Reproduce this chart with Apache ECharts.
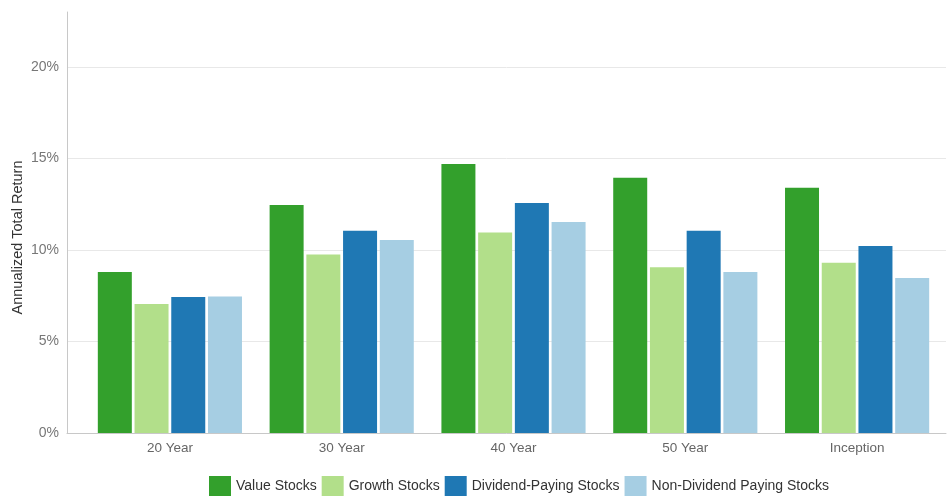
<!DOCTYPE html>
<html>
<head>
<meta charset="utf-8">
<script src="https://cdn.jsdelivr.net/npm/echarts@6/dist/echarts.min.js"></script>
<style>
  html, body { margin: 0; padding: 0; background: #fff; }
  .echarts { width: 948px; height: 497px; }
</style>
</head>
<body>
<div class="echarts"></div>
<script>
const categories = ['20 Year', '30 Year', '40 Year', '50 Year', 'Inception'];
const valueStocks = [8.8, 12.45, 14.7, 13.95, 13.4];
const growthStocks = [7.05, 9.75, 10.95, 9.05, 9.3];
const dividendStocks = [7.43, 11.05, 12.57, 11.05, 10.22];
const nonDividendStocks = [7.46, 10.55, 11.53, 8.8, 8.47];
const seriesNames = ['Value Stocks', 'Growth Stocks', 'Dividend-Paying Stocks', 'Non-Dividend Paying Stocks'];
const colors = ['#33a02c', '#b2df8a', '#1f78b4', '#a6cee3'];

window.addEventListener('load', function () {
    let myChart = echarts.init(document.querySelector('.echarts'));
    const font = '"Liberation Sans", Arial, sans-serif';
    const allData = [valueStocks, growthStocks, dividendStocks, nonDividendStocks];

    let myChartOption = {
        animation: false,
        color: colors,
        textStyle: { fontFamily: font },
        legend: {
            data: seriesNames,
            left: 209,
            bottom: 1,
            padding: 0,
            itemWidth: 22,
            itemHeight: 20,
            itemGap: 5,
            icon: 'rect',
            textStyle: { color: '#333', fontSize: 14, fontFamily: font }
        },
        grid: [
            // frame grid: y axis, split lines, bottom axis line
            { left: 67, right: 2, top: 12, bottom: 64, outerBoundsMode: 'none' },
            // bars grid, inset a bit like the original
            { left: 84, right: 5, top: 12, bottom: 64, outerBoundsMode: 'none' }
        ],
        xAxis: [{
            gridIndex: 0,
            type: 'value',
            min: 0,
            max: 1,
            axisLine: { show: true, onZero: false, lineStyle: { color: '#c8c8c8', width: 1 } },
            axisTick: { show: false },
            axisLabel: { show: false },
            splitLine: { show: false }
        }, {
            gridIndex: 1,
            type: 'category',
            data: categories,
            axisLine: { show: false },
            axisTick: { show: false },
            axisLabel: { color: '#666', fontSize: 13.5, margin: 8, fontFamily: font }
        }],
        yAxis: [{
            gridIndex: 0,
            type: 'value',
            min: 0,
            max: 23,
            interval: 5,
            name: 'Annualized Total Return',
            nameLocation: 'middle',
            nameGap: 42,
            nameMoveOverlap: false,
            nameTextStyle: { color: '#333', fontSize: 14.5, fontFamily: font, padding: [0, 30, 0, 0] },
            axisLine: { show: true, lineStyle: { color: '#c8c8c8', width: 1 } },
            axisTick: { show: false },
            axisLabel: {
                color: '#777',
                fontSize: 14,
                margin: 8,
                showMaxLabel: false,
                formatter: function (v) { return v % 5 === 0 ? v + '%' : ''; }
            },
            splitLine: { show: true, showMaxLine: false, lineStyle: { color: '#e8e8e8', width: 1 } }
        }, {
            gridIndex: 1,
            type: 'value',
            min: 0,
            max: 23,
            show: false
        }],
        series: seriesNames.map(function (name, i) {
            return {
                name: name,
                type: 'bar',
                xAxisIndex: 1,
                yAxisIndex: 1,
                data: allData[i],
                barWidth: 34,
                barGap: '8%',
                itemStyle: { color: colors[i] }
            };
        })
    };
    myChart.setOption(myChartOption);
});
</script>
</body>
</html>
